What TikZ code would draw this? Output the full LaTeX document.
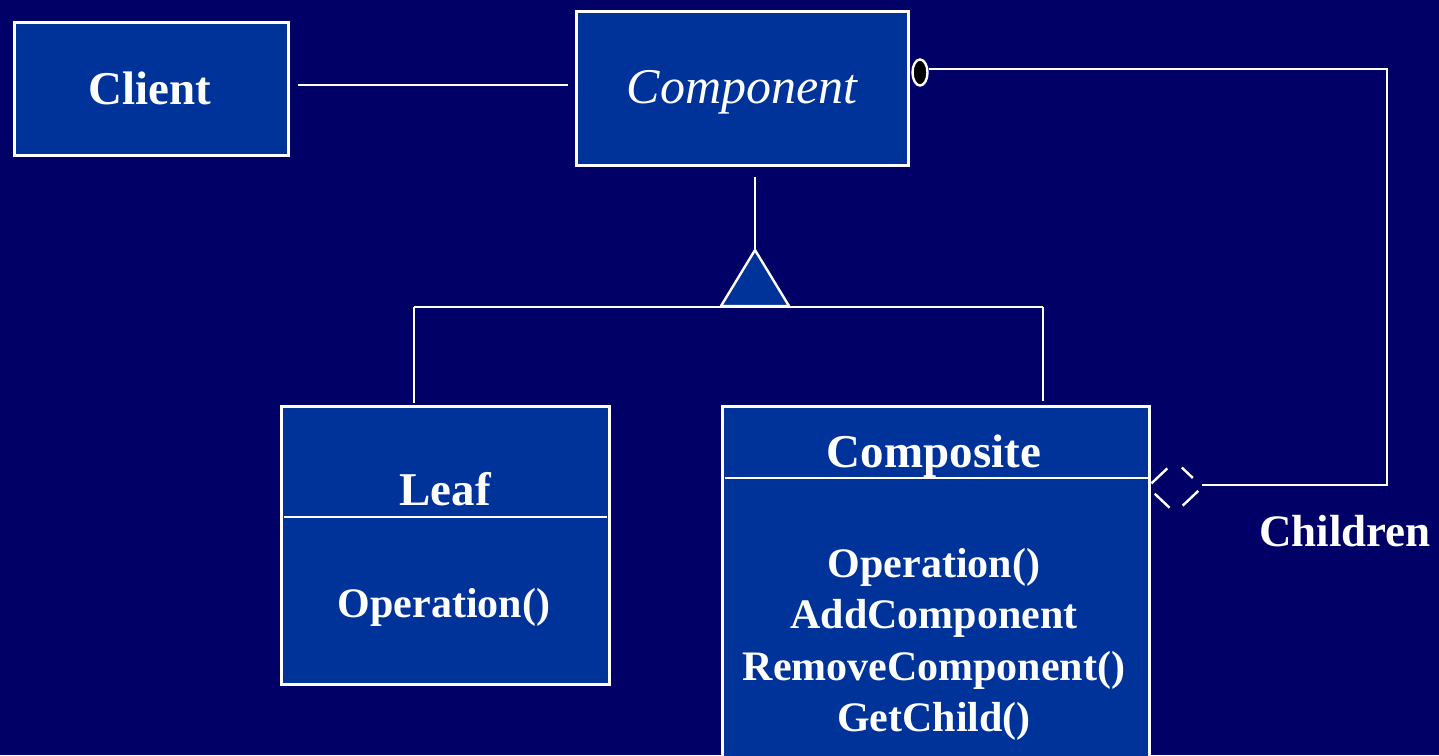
\documentclass[tikz,border=0pt]{standalone}
\usepackage{fontspec}
\setmainfont{Liberation Serif}
\usetikzlibrary{shapes.geometric,calc}
\definecolor{navy}{RGB}{0,0,102}
\definecolor{boxblue}{RGB}{0,51,153}
\begin{document}
\begin{tikzpicture}[x=0.5pt,y=-0.5pt,
  classbox/.style={draw=white,line width=1.5pt,fill=boxblue,inner sep=0pt,anchor=north west},
  titletext/.style={text=white,anchor=base,inner sep=0pt,font=\fontsize{23.5}{28}\selectfont\bfseries},
  optext/.style={text=white,anchor=base,inner sep=0pt,font=\fontsize{21}{25.5}\selectfont\bfseries},
  link/.style={draw=white,line width=1.2pt}]
% page and clipping frame
\fill[navy] (0,0) rectangle (1439,755);
\clip (0,0) rectangle (1439,755);

% class boxes
\node[classbox,minimum width=137pt,minimum height=66.5pt] (client) at (13,21) {};
\node[classbox,minimum width=166pt,minimum height=77pt] (component) at (575,10) {};
\node[classbox,minimum width=164pt,minimum height=139pt] (leaf) at (280,405) {};
\node[classbox,minimum width=213.5pt,minimum height=190pt] (composite) at (721,405) {};

% compartment separators
\draw[link] ([xshift=2pt,yshift=-56pt]leaf.north west) -- ([xshift=-2pt,yshift=-56pt]leaf.north east);
\draw[link] ([xshift=2pt,yshift=-36.5pt]composite.north west) -- ([xshift=-0.5pt,yshift=-36.5pt]composite.north east);

% class names and operations
\node[titletext] (clienttxt) at (150,104) {Client};
\node[text=white,anchor=base,inner sep=0pt,font=\fontsize{25}{30}\selectfont\itshape] (componenttxt) at (742,103) {Component};
\node[titletext] (leaftxt) at (445,505) {Leaf};
\node[optext] (leafop) at (444,617) {Operation()};
\node[titletext] (compositetxt) at (934,467) {Composite};
\node[optext] (cop1) at (934,577) {Operation()};
\node[optext] (cop2) at (934,628) {AddComponent};
\node[optext] (cop3) at (934,680) {RemoveComponent()};
\node[optext] (cop4) at (934,731) {GetChild()};
\node[titletext,font=\fontsize{22.5}{27}\selectfont\bfseries] (children) at (1345,546) {Children};

% client uses component
\draw[link,shorten <=4pt,shorten >=3.5pt] ([yshift=2pt]client.east) -- ([yshift=2pt]client.east -| component.west);

% generalization
\coordinate (apex) at (755,250);
\coordinate (triL) at (721,306);
\coordinate (triR) at (789,306);
\coordinate (barL) at (414,307);
\coordinate (barR) at (1043,307);
\draw[link,shorten <=5pt] (component.south -| apex) -- (apex);
\draw[link] (barL) -- (barR);
\draw[link,line join=round,fill=boxblue] (apex) -- (triL) -- (triR) -- cycle;
\draw[link,shorten >=1pt] (barL) -- (barL |- leaf.north);
\draw[link,shorten >=2pt] (barR) -- (barR |- composite.north);

% aggregation of children
\node[ellipse,draw=white,line width=1.2pt,fill=black,minimum width=7.5pt,minimum height=13pt,inner sep=0pt] (ball) at (920,72.5) {};
\node[diamond,minimum width=27pt,minimum height=25.5pt,inner sep=0pt] (dia) at (1175,487) {};
\coordinate (cornerA) at (1387,69);
\coordinate (cornerB) at (1387,485);
\draw[link] (ball.east |- cornerA) -- (cornerA) -- (cornerB) -- (dia.east |- cornerB);
\draw[link] ($(dia.west)!0.14!(dia.north)$) -- ($(dia.west)!0.72!(dia.north)$);
\draw[link] ($(dia.north)!0.25!(dia.east)$) -- ($(dia.north)!0.65!(dia.east)$);
\draw[link] ($(dia.east)!0.15!(dia.south)$) -- ($(dia.east)!0.72!(dia.south)$);
\draw[link] ($(dia.south)!0.2!(dia.west)$) -- ($(dia.south)!0.74!(dia.west)$);
\end{tikzpicture}
\end{document}
